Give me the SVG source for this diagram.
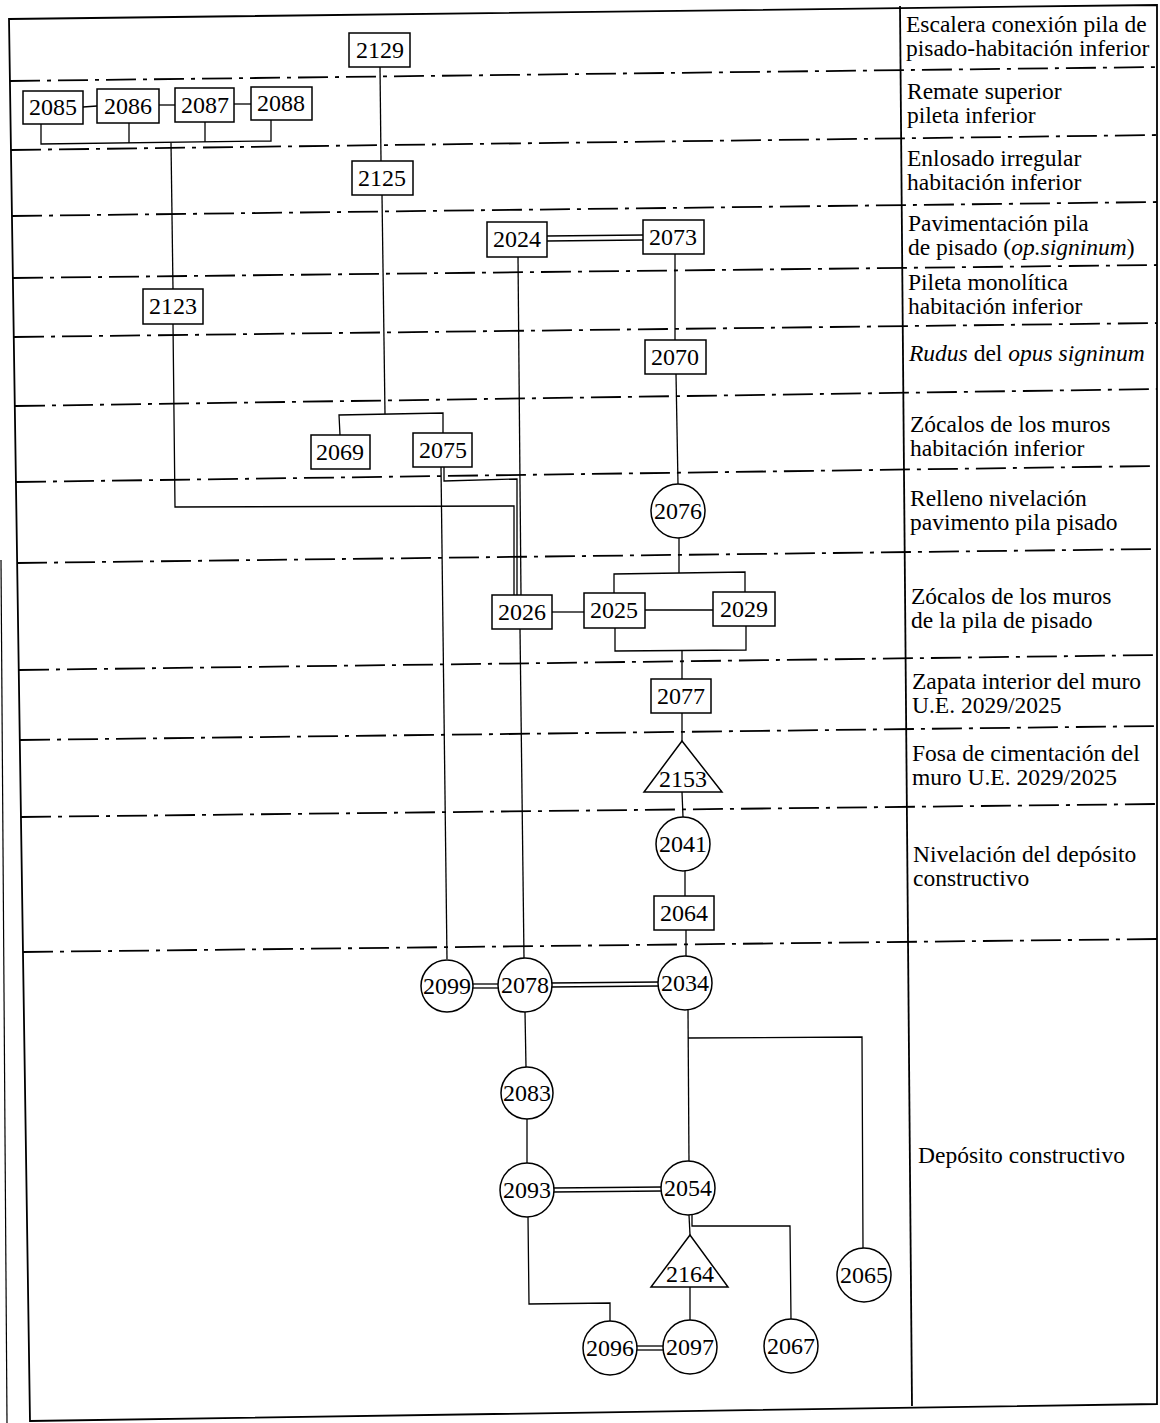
<svg xmlns="http://www.w3.org/2000/svg" width="1160" height="1423" viewBox="0 0 1160 1423">
<style>
.frame{fill:none;stroke:#000;stroke-width:1.8}
.sep{fill:none;stroke:#000;stroke-width:1.8;stroke-dasharray:30 7 4 7}
.c{fill:none;stroke:#000;stroke-width:1.3}
.box{fill:#fff;stroke:#000;stroke-width:1.5}
.num{font-family:"Liberation Serif","Times New Roman",serif;font-size:24px;text-anchor:middle;fill:#000}
.lbl{font-family:"Liberation Serif","Times New Roman",serif;font-size:23.5px;fill:#000}
.it{font-style:italic}
</style>
<rect x="0" y="0" width="1160" height="1423" fill="#fff"/>
<g id="frame">
<path class="frame" d="M9,19 L1157,5 L1157,1404 L30,1421 Z"/>
<line class="frame" x1="900" y1="6" x2="912" y2="1406"/>
<line x1="1" y1="560" x2="7" y2="1423" stroke="#000" stroke-width="1.2"/>
</g>
<g id="separators">
<line class="sep" x1="10" y1="81" x2="1157" y2="67"/>
<line class="sep" x1="11" y1="150" x2="1157" y2="135"/>
<line class="sep" x1="12" y1="216" x2="1157" y2="202"/>
<line class="sep" x1="13" y1="278" x2="1157" y2="265"/>
<line class="sep" x1="14" y1="337" x2="1157" y2="323"/>
<line class="sep" x1="15" y1="406" x2="1157" y2="389"/>
<line class="sep" x1="16" y1="482" x2="1157" y2="466"/>
<line class="sep" x1="17" y1="563" x2="1157" y2="549"/>
<line class="sep" x1="19" y1="670" x2="1157" y2="655"/>
<line class="sep" x1="20" y1="740" x2="1157" y2="726"/>
<line class="sep" x1="21" y1="817" x2="1157" y2="804"/>
<line class="sep" x1="23" y1="952" x2="1157" y2="939"/>
</g>
<g id="labels">
<text class="lbl" x="906" y="32">Escalera conexión pila de<tspan x="906" dy="24">pisado-habitación inferior</tspan></text>
<text class="lbl" x="907" y="99">Remate superior<tspan x="907" dy="24">pileta inferior</tspan></text>
<text class="lbl" x="907" y="166">Enlosado irregular<tspan x="907" dy="24">habitación inferior</tspan></text>
<text class="lbl" x="908" y="231">Pavimentación pila<tspan x="908" dy="24">de pisado (<tspan class="it">op.signinum</tspan>)</tspan></text>
<text class="lbl" x="908" y="290">Pileta monolítica<tspan x="908" dy="24">habitación inferior</tspan></text>
<text class="lbl" x="909" y="361"><tspan class="it">Rudus</tspan> del <tspan class="it">opus signinum</tspan></text>
<text class="lbl" x="910" y="432">Zócalos de los muros<tspan x="910" dy="24">habitación inferior</tspan></text>
<text class="lbl" x="910" y="506">Relleno nivelación<tspan x="910" dy="24">pavimento pila pisado</tspan></text>
<text class="lbl" x="911" y="604">Zócalos de los muros<tspan x="911" dy="24">de la pila de pisado</tspan></text>
<text class="lbl" x="912" y="689">Zapata interior del muro<tspan x="912" dy="24">U.E. 2029/2025</tspan></text>
<text class="lbl" x="912" y="761">Fosa de cimentación del<tspan x="912" dy="24">muro U.E. 2029/2025</tspan></text>
<text class="lbl" x="913" y="862">Nivelación del depósito<tspan x="913" dy="24">constructivo</tspan></text>
<text class="lbl" x="918" y="1163">Depósito constructivo</text>
</g>
<g id="connectors">
<line class="c" x1="83" y1="107" x2="97" y2="106"/>
<line class="c" x1="159" y1="105" x2="175" y2="105"/>
<line class="c" x1="234" y1="104" x2="251" y2="104"/>
<polyline class="c" points="41,124 41,144 271,141 271,120"/>
<line class="c" x1="129" y1="123" x2="129" y2="143"/>
<line class="c" x1="205" y1="122" x2="205" y2="142"/>
<line class="c" x1="171" y1="143" x2="173" y2="289"/>
<polyline class="c" points="173,324 175,507 514,506 514,595"/>
<line class="c" x1="380" y1="67" x2="381" y2="161"/>
<line class="c" x1="382" y1="195" x2="385" y2="414"/>
<polyline class="c" points="340,435 339,415 443,413 443,433"/>
<line class="c" x1="441" y1="467" x2="447" y2="959"/>
<polyline class="c" points="444,467 444,481 517,479 517,595"/>
<line class="c" x1="518" y1="257" x2="521" y2="595"/>
<line class="c" x1="547" y1="236" x2="643" y2="235"/>
<line class="c" x1="547" y1="241" x2="643" y2="240"/>
<line class="c" x1="675" y1="254" x2="675" y2="340"/>
<line class="c" x1="676" y1="374" x2="678" y2="484"/>
<line class="c" x1="679" y1="538" x2="679" y2="573"/>
<polyline class="c" points="614,593 614,574 745,572 745,592"/>
<line class="c" x1="552" y1="612" x2="584" y2="612"/>
<line class="c" x1="645" y1="610" x2="713" y2="610"/>
<polyline class="c" points="615,628 615,651 746,650 746,626"/>
<line class="c" x1="682" y1="650" x2="682" y2="679"/>
<line class="c" x1="682" y1="713" x2="682" y2="741"/>
<line class="c" x1="682" y1="792" x2="683" y2="817"/>
<line class="c" x1="685" y1="871" x2="685" y2="896"/>
<line class="c" x1="686" y1="930" x2="686" y2="957"/>
<line class="c" x1="520" y1="629" x2="524" y2="958"/>
<line class="c" x1="473" y1="984" x2="499" y2="984"/>
<line class="c" x1="473" y1="988" x2="499" y2="988"/>
<line class="c" x1="551" y1="983" x2="659" y2="982"/>
<line class="c" x1="551" y1="987" x2="659" y2="986"/>
<line class="c" x1="688" y1="1010" x2="689" y2="1162"/>
<polyline class="c" points="688,1038 862,1037 863,1248"/>
<line class="c" x1="525" y1="1012" x2="526" y2="1067"/>
<line class="c" x1="527" y1="1119" x2="527" y2="1163"/>
<line class="c" x1="553" y1="1188" x2="662" y2="1187"/>
<line class="c" x1="553" y1="1192" x2="662" y2="1191"/>
<line class="c" x1="689" y1="1215" x2="690" y2="1235"/>
<polyline class="c" points="692,1215 692,1226 790,1226 791,1319"/>
<line class="c" x1="690" y1="1287" x2="690" y2="1320"/>
<polyline class="c" points="528,1217 529,1304 610,1303 610,1321"/>
<line class="c" x1="636" y1="1346" x2="664" y2="1346"/>
<line class="c" x1="636" y1="1350" x2="664" y2="1350"/>
</g>
<g id="n2129"><rect class="box" x="349" y="33" width="61" height="34"/><text class="num" x="380" y="58">2129</text></g>
<g id="n2085"><rect class="box" x="23" y="91" width="60" height="33"/><text class="num" x="53" y="115">2085</text></g>
<g id="n2086"><rect class="box" x="97" y="89" width="62" height="34"/><text class="num" x="128" y="114">2086</text></g>
<g id="n2087"><rect class="box" x="175" y="88" width="59" height="34"/><text class="num" x="205" y="113">2087</text></g>
<g id="n2088"><rect class="box" x="251" y="87" width="61" height="33"/><text class="num" x="281" y="111">2088</text></g>
<g id="n2125"><rect class="box" x="352" y="161" width="61" height="34"/><text class="num" x="382" y="186">2125</text></g>
<g id="n2024"><rect class="box" x="487" y="222" width="60" height="35"/><text class="num" x="517" y="247">2024</text></g>
<g id="n2073"><rect class="box" x="643" y="220" width="61" height="34"/><text class="num" x="673" y="245">2073</text></g>
<g id="n2123"><rect class="box" x="143" y="289" width="60" height="35"/><text class="num" x="173" y="314">2123</text></g>
<g id="n2070"><rect class="box" x="645" y="340" width="61" height="34"/><text class="num" x="675" y="365">2070</text></g>
<g id="n2069"><rect class="box" x="311" y="435" width="59" height="34"/><text class="num" x="340" y="460">2069</text></g>
<g id="n2075"><rect class="box" x="413" y="433" width="59" height="34"/><text class="num" x="443" y="458">2075</text></g>
<g id="n2076"><circle class="box" cx="678" cy="511" r="27"/><text class="num" x="678" y="519">2076</text></g>
<g id="n2026"><rect class="box" x="492" y="595" width="60" height="34"/><text class="num" x="522" y="620">2026</text></g>
<g id="n2025"><rect class="box" x="584" y="593" width="61" height="35"/><text class="num" x="614" y="618">2025</text></g>
<g id="n2029"><rect class="box" x="713" y="592" width="62" height="34"/><text class="num" x="744" y="617">2029</text></g>
<g id="n2077"><rect class="box" x="651" y="679" width="60" height="34"/><text class="num" x="681" y="704">2077</text></g>
<g id="n2153"><polygon class="box" points="682,741 644,792 722,792"/><text class="num" x="683" y="787">2153</text></g>
<g id="n2041"><circle class="box" cx="683" cy="844" r="27"/><text class="num" x="683" y="852">2041</text></g>
<g id="n2064"><rect class="box" x="654" y="896" width="60" height="34"/><text class="num" x="684" y="921">2064</text></g>
<g id="n2099"><circle class="box" cx="447" cy="986" r="26"/><text class="num" x="447" y="994">2099</text></g>
<g id="n2078"><circle class="box" cx="525" cy="985" r="27"/><text class="num" x="525" y="993">2078</text></g>
<g id="n2034"><circle class="box" cx="685" cy="983" r="27"/><text class="num" x="685" y="991">2034</text></g>
<g id="n2083"><circle class="box" cx="527" cy="1093" r="26"/><text class="num" x="527" y="1101">2083</text></g>
<g id="n2093"><circle class="box" cx="527" cy="1190" r="27"/><text class="num" x="527" y="1198">2093</text></g>
<g id="n2054"><circle class="box" cx="688" cy="1188" r="27"/><text class="num" x="688" y="1196">2054</text></g>
<g id="n2164"><polygon class="box" points="690,1235 651,1287 728,1287"/><text class="num" x="690" y="1282">2164</text></g>
<g id="n2065"><circle class="box" cx="864" cy="1275" r="27"/><text class="num" x="864" y="1283">2065</text></g>
<g id="n2096"><circle class="box" cx="610" cy="1348" r="27"/><text class="num" x="610" y="1356">2096</text></g>
<g id="n2097"><circle class="box" cx="690" cy="1347" r="27"/><text class="num" x="690" y="1355">2097</text></g>
<g id="n2067"><circle class="box" cx="791" cy="1346" r="27"/><text class="num" x="791" y="1354">2067</text></g>
</svg>
